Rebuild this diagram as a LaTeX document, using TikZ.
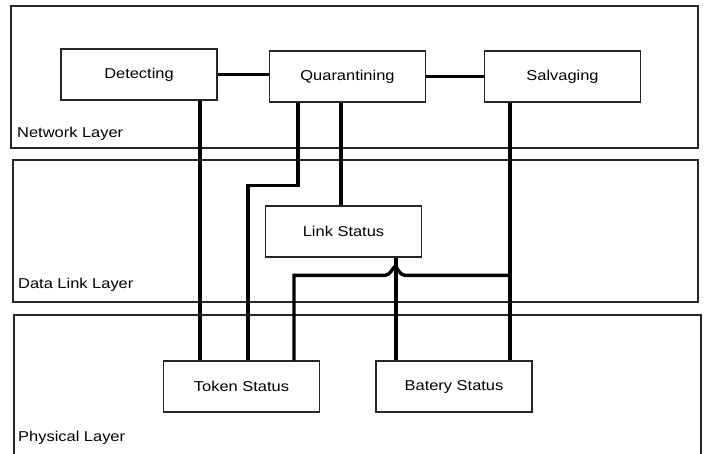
\documentclass[tikz,border=0pt]{standalone}
\usepackage{fontspec}
\setmainfont[FakeStretch=1.15]{Liberation Sans}
\begin{document}
\begin{tikzpicture}[x=1pt,y=-1pt,
  every node/.style={font=\fontsize{14.3}{17}\selectfont},
  layer/.style={draw=black!85,line width=1.2pt},
  layertext/.style={anchor=west,inner sep=0pt},
  blockbox/.style={draw=black!85,line width=1.2pt,fill=white,minimum width=156pt,minimum height=51pt,inner sep=0pt},
  conn/.style={line width=3.4pt,line join=miter}]
\useasboundingbox (0,0) rectangle (704,454);
% layers
\draw[layer] (11,6) rectangle (698,148);
\draw[layer] (13,160) rectangle (698,302);
\draw[layer] (14,315) rectangle (701,460);
\node[layertext] (nl) at (17,134) {Network Layer};
\node[layertext] (dl) at (18,285) {Data Link Layer};
\node[layertext] (pl) at (18,438) {Physical Layer};
% block centres
\coordinate (detc) at (139,74.5);
\coordinate (quac) at (347.5,76.5);
\coordinate (salc) at (562.5,76.5);
\coordinate (lnkc) at (343.5,231.5);
\coordinate (tokc) at (241.5,386.5);
\coordinate (batc) at (454,386.5);
% blocks
\node[blockbox] (det) at (detc) {Detecting};
\node[blockbox] (qua) at (quac) {Quarantining};
\node[blockbox] (sal) at (salc) {Salvaging};
\node[blockbox] (lnk) at (lnkc) {Link Status};
\node[blockbox] (tok) at (tokc) {Token Status};
\node[blockbox] (bat) at (batc) {Batery Status};
% anchor coordinates for connectors
\coordinate (d1) at ([xshift=61pt]det.south);
\coordinate (q1) at ([xshift=-49.5pt]qua.south);
\coordinate (q2) at ([xshift=-6.5pt]qua.south);
\coordinate (s1) at ([xshift=-52.5pt]sal.south);
\coordinate (l1) at ([xshift=52.5pt]lnk.south);
\coordinate (t1) at ([xshift=6.5pt]tok.north);
\coordinate (t2) at ([xshift=52.5pt]tok.north);
% connectors
\draw[conn] (det.east) -- (det.east -| qua.west);
\draw[conn] (qua.east) -- (qua.east -| sal.west);
\draw[conn] (d1) -- (d1 |- tok.north);
\draw[conn] (q1) -- ++(0,83) -| (t1);
\draw[conn] (q2) -- (q2 |- lnk.north);
\draw[conn] (s1) -- (s1 |- bat.north);
\draw[conn] (l1) -- (l1 |- bat.north);
\draw[conn] (t2) -- ++(0,-85) -- ++(91,0)
  .. controls ++(5,0) and ++(-2,1) .. ++(10,-9)
  .. controls ++(2,1) and ++(-5,0) .. ++(10,9) coordinate (he)
  -- (he -| s1);
\end{tikzpicture}
\end{document}
